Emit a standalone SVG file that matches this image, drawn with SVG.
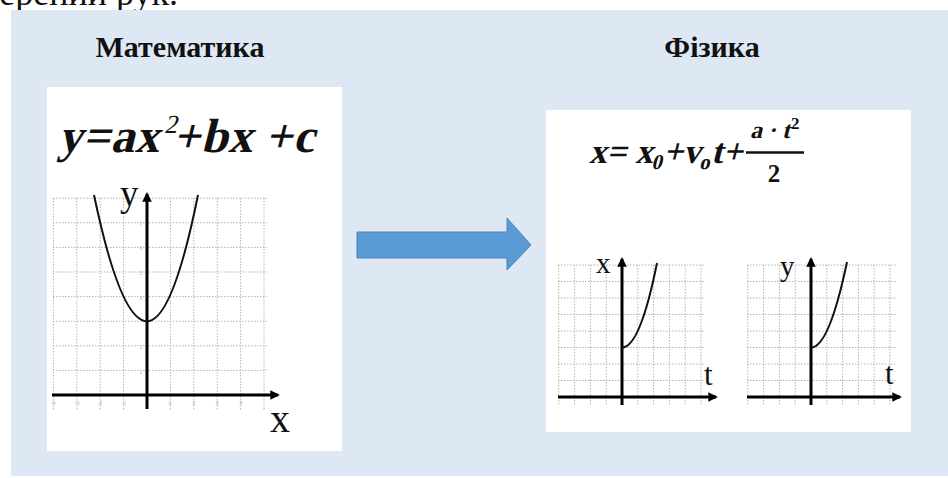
<svg xmlns="http://www.w3.org/2000/svg" width="948" height="478" viewBox="0 0 948 478">
<defs>
<style>
.title{font-family:"Liberation Serif",serif;font-weight:bold;font-size:30px;fill:#111;text-anchor:middle}
.math{font-family:"Liberation Serif",serif;font-weight:bold;fill:#111}
.lbl{font-family:"Liberation Serif",serif;fill:#111}
.tick{font-family:"Liberation Sans",sans-serif;font-size:6px;fill:#bbb;text-anchor:middle}
.grid{stroke:#b4b4b4;stroke-width:1;stroke-dasharray:1.5 1.5;fill:none}
.axis{stroke:#000;stroke-width:3;fill:none}
.curve{stroke:#111;stroke-width:2;fill:none}
.box{fill:#fff}
</style>
<marker id="ah" viewBox="0 0 10 10" refX="8" refY="5" markerWidth="3.2" markerHeight="3.2" orient="auto" markerUnits="strokeWidth">
<path d="M0,0 L10,5 L0,10 Z" fill="#000"/>
</marker>
</defs>
<rect x="0" y="0" width="948" height="478" fill="#fff"/>
<text x="178" y="5" class="lbl" font-size="36" text-anchor="end">ерений рук.</text>
<rect x="11" y="10" width="937" height="466" fill="#dee8f4"/>

<g id="title-math"><text x="180" y="57" class="title">Математика</text></g>
<g id="title-phys"><text x="712" y="57" class="title">Фізика</text></g>

<g id="math-box">
<rect x="47" y="87" width="295" height="364" class="box"/>
<g transform="translate(58,152) skewX(-14)">
<text x="0" y="0" class="math" font-size="48" letter-spacing="0.5">y=ax<tspan dy="-19" font-size="26" font-weight="normal">2</tspan><tspan dy="19">+bx +c</tspan></text>
</g>
<g class="grid">
<path d="M53.4,198V410M76.8,198V410M100.2,198V410M123.6,198V410M170.4,198V410M193.8,198V410M217.2,198V410M240.6,198V410M264,198V410"/>
<path d="M53,198.2H267M53,222.8H267M53,247.4H267M53,272H267M53,296.6H267M53,321.2H267M53,345.8H267M53,370.4H267"/>
</g>
<g class="tick">
<text x="141" y="374">1</text><text x="141" y="349">2</text><text x="141" y="300">4</text><text x="141" y="275">5</text><text x="141" y="250">6</text><text x="141" y="226">7</text>
<text x="53" y="405">-4</text><text x="77" y="405">-3</text><text x="100" y="405">-2</text><text x="124" y="405">-1</text><text x="170" y="405">1</text><text x="194" y="405">2</text><text x="217" y="405">3</text><text x="241" y="405">4</text>
</g>
<path d="M52,395H278" class="axis" marker-end="url(#ah)"/>
<path d="M147,409V194" class="axis" marker-end="url(#ah)"/>
<path d="M94,195Q120.5,321.2 147,321.2Q172.5,321.2 198,195" class="curve"/>
<text x="120" y="206" class="lbl" font-size="37">y</text>
<text x="270" y="432" class="lbl" font-size="40">x</text>
</g>

<g id="arrow">
<path d="M357,232H507V218L531,245L507,270V258H357Z" fill="#5b9bd5" stroke="#4a83bb" stroke-width="1"/>
</g>

<g id="phys-box">
<rect x="546" y="110" width="365" height="322" class="box"/>
<g transform="translate(589,163) skewX(-14)">
<text x="0" y="0" class="math" font-size="35">x= x<tspan dy="6" font-size="21">0</tspan><tspan dy="-6">+v</tspan><tspan dy="6" font-size="21">o</tspan><tspan dy="-6">t+</tspan></text>
</g>
<g transform="translate(750,138) skewX(-14)">
<text x="0" y="0" class="math" font-size="24">a · t</text>
</g>
<text x="791" y="129" class="math" font-size="17" font-family="Liberation Sans">2</text>
<path d="M746,152.5H804" stroke="#111" stroke-width="2.5"/>
<text x="774" y="182" class="math" font-size="25" text-anchor="middle">2</text>

<g id="graph-x">
<g class="grid">
<path d="M558.8,265V405M574.6,265V405M590.4,265V405M606.2,265V405M637.8,265V405M653.6,265V405M669.4,265V405M685.2,265V405M701,265V405"/>
<path d="M558,265H705M558,281.5H705M558,298H705M558,314.5H705M558,331H705M558,347.5H705M558,364H705M558,380.5H705"/>
</g>
<path d="M558,397H716" class="axis" marker-end="url(#ah)"/>
<path d="M622,405V259" class="axis" marker-end="url(#ah)"/>
<path d="M622,347.5Q640,347.5 657,263" class="curve"/>
<text x="596" y="273" class="lbl" font-size="29">x</text>
<text x="704" y="385" class="lbl" font-size="31">t</text>
</g>

<g id="graph-y">
<g class="grid">
<path d="M747.8,265V405M763.6,265V405M779.4,265V405M795.2,265V405M826.8,265V405M842.6,265V405M858.4,265V405M874.2,265V405M890,265V405"/>
<path d="M747,265H896M747,281.5H896M747,298H896M747,314.5H896M747,331H896M747,347.5H896M747,364H896M747,380.5H896"/>
</g>
<path d="M747,397H900" class="axis" marker-end="url(#ah)"/>
<path d="M811,405V259" class="axis" marker-end="url(#ah)"/>
<path d="M811,347.5Q829,347.5 847,262" class="curve"/>
<text x="780" y="276" class="lbl" font-size="29">y</text>
<text x="885" y="384" class="lbl" font-size="31">t</text>
</g>
</g>
</svg>
